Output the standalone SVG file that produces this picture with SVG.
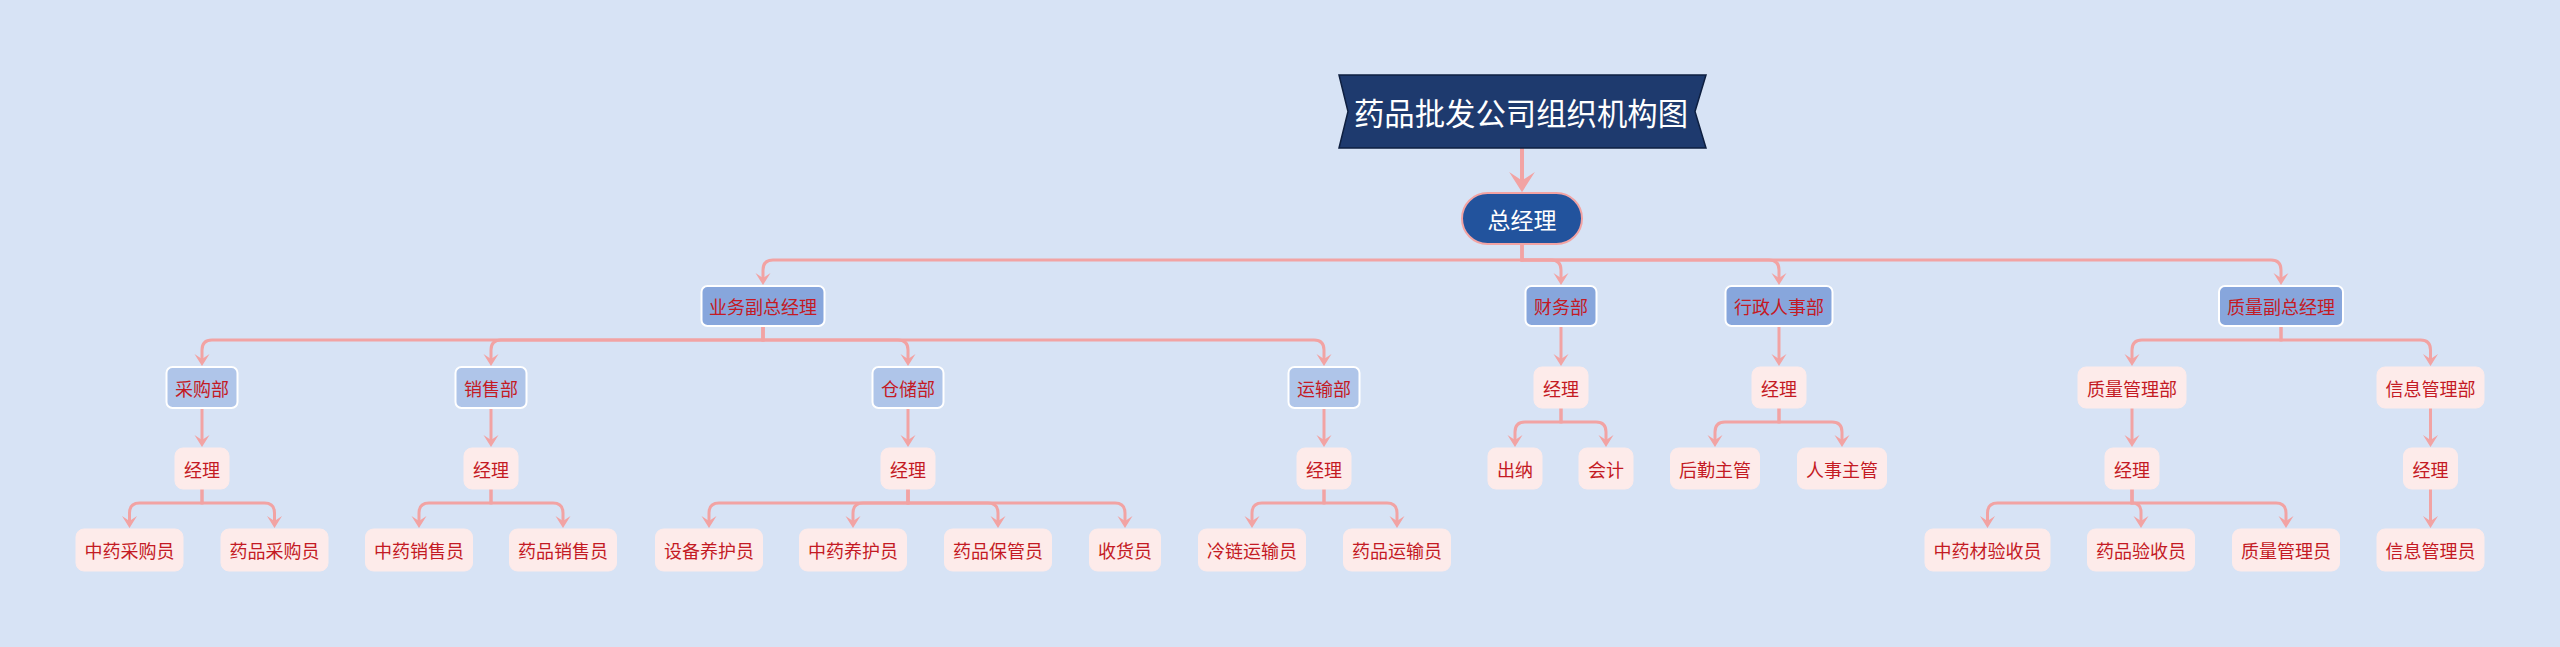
<svg xmlns="http://www.w3.org/2000/svg" width="2560" height="647" viewBox="0 0 2560 647">
<defs>
<style>
.cn{fill:none;stroke:#f2a3a3;stroke-width:3;marker-end:url(#ah)}
.l1{fill:#87a6dc;stroke:#ffffff;stroke-width:2}
.l2{fill:#afc5e9;stroke:#ffffff;stroke-width:2}
.pk{fill:#fdebea;stroke:#fdebea;stroke-width:1}
.t{font-family:"Noto Sans CJK SC","Noto Sans",sans-serif;font-size:18px;fill:#c41a24;text-anchor:middle;dominant-baseline:central}
</style>
<marker id="ah" markerUnits="userSpaceOnUse" markerWidth="20" markerHeight="20" viewBox="-14 -10 18 20" refX="-3" refY="0" orient="auto" overflow="visible">
<path d="M0,0 L-12,-7.5 L-7,0 L-12,7.5 Z" fill="#f2a3a3"/>
</marker>
<marker id="ahBig" markerUnits="userSpaceOnUse" markerWidth="30" markerHeight="30" viewBox="-22 -14 26 28" refX="-4" refY="0" orient="auto" overflow="visible">
<path d="M0,0 L-19,-12 L-11,0 L-19,12 Z" fill="#f2a3a3"/>
</marker>
</defs>
<rect x="0" y="0" width="2560" height="647" fill="#d7e3f5"/>

<g id="connectors">
<path d="M1522,148 V188" fill="none" stroke="#f2a3a3" stroke-width="4" marker-end="url(#ahBig)"/>
<path class="cn" d="M1522,244 V260 H773 Q763,260 763,270 V282"/>
<path class="cn" d="M1522,244 V260 H1551 Q1561,260 1561,270 V282"/>
<path class="cn" d="M1522,244 V260 H1769 Q1779,260 1779,270 V282"/>
<path class="cn" d="M1522,244 V260 H2271 Q2281,260 2281,270 V282"/>

<path class="cn" d="M763,326 V340 H212 Q202,340 202,350 V363"/>
<path class="cn" d="M763,326 V340 H501 Q491,340 491,350 V363"/>
<path class="cn" d="M763,326 V340 H898 Q908,340 908,350 V363"/>
<path class="cn" d="M763,326 V340 H1314 Q1324,340 1324,350 V363"/>
<path class="cn" d="M1561,326 V363"/>
<path class="cn" d="M1779,326 V363"/>
<path class="cn" d="M2281,326 V340 H2142 Q2132,340 2132,350 V363"/>
<path class="cn" d="M2281,326 V340 H2420.5 Q2430.5,340 2430.5,350 V363"/>

<path class="cn" d="M202,408 V444"/>
<path class="cn" d="M491,408 V444"/>
<path class="cn" d="M908,408 V444"/>
<path class="cn" d="M1324,408 V444"/>
<path class="cn" d="M2132,408 V444"/>
<path class="cn" d="M2430.5,408 V444"/>
<path class="cn" d="M1561,408 V422 H1525 Q1515,422 1515,432 V444"/>
<path class="cn" d="M1561,408 V422 H1596 Q1606,422 1606,432 V444"/>
<path class="cn" d="M1779,408 V422 H1725 Q1715,422 1715,432 V444"/>
<path class="cn" d="M1779,408 V422 H1832 Q1842,422 1842,432 V444"/>

<path class="cn" d="M202,489 V503 H139.5 Q129.5,503 129.5,513 V525"/>
<path class="cn" d="M202,489 V503 H264.5 Q274.5,503 274.5,513 V525"/>
<path class="cn" d="M491,489 V503 H429 Q419,503 419,513 V525"/>
<path class="cn" d="M491,489 V503 H553 Q563,503 563,513 V525"/>
<path class="cn" d="M908,489 V503 H719 Q709,503 709,513 V525"/>
<path class="cn" d="M908,489 V503 H863 Q853,503 853,513 V525"/>
<path class="cn" d="M908,489 V503 H988 Q998,503 998,513 V525"/>
<path class="cn" d="M908,489 V503 H1115 Q1125,503 1125,513 V525"/>
<path class="cn" d="M1324,489 V503 H1262 Q1252,503 1252,513 V525"/>
<path class="cn" d="M1324,489 V503 H1387 Q1397,503 1397,513 V525"/>
<path class="cn" d="M2132,489 V503 H1997.5 Q1987.5,503 1987.5,513 V525"/>
<path class="cn" d="M2132,489 V503 H2132 Q2141,503 2141,512 V525"/>
<path class="cn" d="M2132,489 V503 H2276 Q2286,503 2286,513 V525"/>
<path class="cn" d="M2430.5,489 V525"/>
</g>

<g id="title">
<polygon points="1339,75 1706,75 1695,111.5 1706,148 1339,148 1348,111.5" fill="#1e3a6e" stroke="#0e1f40" stroke-width="1.5"/>
<text x="1521" y="111.5" font-family="Noto Sans CJK SC, Noto Sans, sans-serif" font-size="31" fill="#ffffff" text-anchor="middle" dominant-baseline="central" textLength="334" lengthAdjust="spacingAndGlyphs">药品批发公司组织机构图</text>
</g>
<g id="root">
<rect x="1462" y="193" width="120" height="51" rx="25.5" fill="#22539d" stroke="#f2a3a3" stroke-width="2"/>
<text x="1522" y="218.5" font-family="Noto Sans CJK SC, Noto Sans, sans-serif" font-size="23" fill="#ffffff" text-anchor="middle" dominant-baseline="central">总经理</text>
</g>

<g id="n-ywfz"><rect class="l1" x="701.5" y="286" width="123" height="40" rx="6"/><text class="t" x="763" y="306">业务副总经理</text></g>
<g id="n-cwb"><rect class="l1" x="1525.5" y="286" width="71" height="40" rx="6"/><text class="t" x="1561" y="306">财务部</text></g>
<g id="n-xzrsb"><rect class="l1" x="1725.5" y="286" width="107" height="40" rx="6"/><text class="t" x="1779" y="306">行政人事部</text></g>
<g id="n-zlfz"><rect class="l1" x="2219" y="286" width="124" height="40" rx="6"/><text class="t" x="2281" y="306">质量副总经理</text></g>

<g id="n-cgb"><rect class="l2" x="166.5" y="367" width="71" height="41" rx="6"/><text class="t" x="202" y="387.5">采购部</text></g>
<g id="n-xsb"><rect class="l2" x="455.5" y="367" width="71" height="41" rx="6"/><text class="t" x="491" y="387.5">销售部</text></g>
<g id="n-ccb"><rect class="l2" x="872.5" y="367" width="71" height="41" rx="6"/><text class="t" x="908" y="387.5">仓储部</text></g>
<g id="n-ysb"><rect class="l2" x="1288.5" y="367" width="71" height="41" rx="6"/><text class="t" x="1324" y="387.5">运输部</text></g>
<g id="n-cw-jl"><rect class="pk" x="1534" y="367" width="54" height="41" rx="8"/><text class="t" x="1561" y="387.5">经理</text></g>
<g id="n-xz-jl"><rect class="pk" x="1752" y="367" width="54" height="41" rx="8"/><text class="t" x="1779" y="387.5">经理</text></g>
<g id="n-zlglb"><rect class="pk" x="2078" y="367" width="108" height="41" rx="8"/><text class="t" x="2132" y="387.5">质量管理部</text></g>
<g id="n-xxglb"><rect class="pk" x="2377" y="367" width="107" height="41" rx="8"/><text class="t" x="2430.5" y="387.5">信息管理部</text></g>

<g id="n-cg-jl"><rect class="pk" x="175" y="448" width="54" height="41" rx="8"/><text class="t" x="202" y="468.5">经理</text></g>
<g id="n-xs-jl"><rect class="pk" x="464" y="448" width="54" height="41" rx="8"/><text class="t" x="491" y="468.5">经理</text></g>
<g id="n-cc-jl"><rect class="pk" x="881" y="448" width="54" height="41" rx="8"/><text class="t" x="908" y="468.5">经理</text></g>
<g id="n-ys-jl"><rect class="pk" x="1297" y="448" width="54" height="41" rx="8"/><text class="t" x="1324" y="468.5">经理</text></g>
<g id="n-zl-jl"><rect class="pk" x="2105" y="448" width="54" height="41" rx="8"/><text class="t" x="2132" y="468.5">经理</text></g>
<g id="n-xx-jl"><rect class="pk" x="2403.5" y="448" width="54" height="41" rx="8"/><text class="t" x="2430.5" y="468.5">经理</text></g>
<g id="n-cn"><rect class="pk" x="1488" y="448" width="54" height="41" rx="8"/><text class="t" x="1515" y="468.5">出纳</text></g>
<g id="n-kj"><rect class="pk" x="1579" y="448" width="54" height="41" rx="8"/><text class="t" x="1606" y="468.5">会计</text></g>
<g id="n-hqzg"><rect class="pk" x="1670.5" y="448" width="89" height="41" rx="8"/><text class="t" x="1715" y="468.5">后勤主管</text></g>
<g id="n-rszg"><rect class="pk" x="1797.5" y="448" width="89" height="41" rx="8"/><text class="t" x="1842" y="468.5">人事主管</text></g>

<g id="n-zycgy"><rect class="pk" x="76" y="529" width="107" height="42" rx="8"/><text class="t" x="129.5" y="550">中药采购员</text></g>
<g id="n-ypcgy"><rect class="pk" x="221" y="529" width="107" height="42" rx="8"/><text class="t" x="274.5" y="550">药品采购员</text></g>
<g id="n-zyxsy"><rect class="pk" x="365.5" y="529" width="107" height="42" rx="8"/><text class="t" x="419" y="550">中药销售员</text></g>
<g id="n-ypxsy"><rect class="pk" x="509.5" y="529" width="107" height="42" rx="8"/><text class="t" x="563" y="550">药品销售员</text></g>
<g id="n-sbyhy"><rect class="pk" x="655.5" y="529" width="107" height="42" rx="8"/><text class="t" x="709" y="550">设备养护员</text></g>
<g id="n-zyyhy"><rect class="pk" x="799.5" y="529" width="107" height="42" rx="8"/><text class="t" x="853" y="550">中药养护员</text></g>
<g id="n-ypbgy"><rect class="pk" x="944.5" y="529" width="107" height="42" rx="8"/><text class="t" x="998" y="550">药品保管员</text></g>
<g id="n-shy"><rect class="pk" x="1089.5" y="529" width="71" height="42" rx="8"/><text class="t" x="1125" y="550">收货员</text></g>
<g id="n-llysy"><rect class="pk" x="1198.5" y="529" width="107" height="42" rx="8"/><text class="t" x="1252" y="550">冷链运输员</text></g>
<g id="n-ypysy"><rect class="pk" x="1343.5" y="529" width="107" height="42" rx="8"/><text class="t" x="1397" y="550">药品运输员</text></g>
<g id="n-zycysy"><rect class="pk" x="1925" y="529" width="125" height="42" rx="8"/><text class="t" x="1987.5" y="550">中药材验收员</text></g>
<g id="n-ypysy2"><rect class="pk" x="2087.5" y="529" width="107" height="42" rx="8"/><text class="t" x="2141" y="550">药品验收员</text></g>
<g id="n-zlgly"><rect class="pk" x="2232.5" y="529" width="107" height="42" rx="8"/><text class="t" x="2286" y="550">质量管理员</text></g>
<g id="n-xxgly"><rect class="pk" x="2377" y="529" width="107" height="42" rx="8"/><text class="t" x="2430.5" y="550">信息管理员</text></g>
</svg>
